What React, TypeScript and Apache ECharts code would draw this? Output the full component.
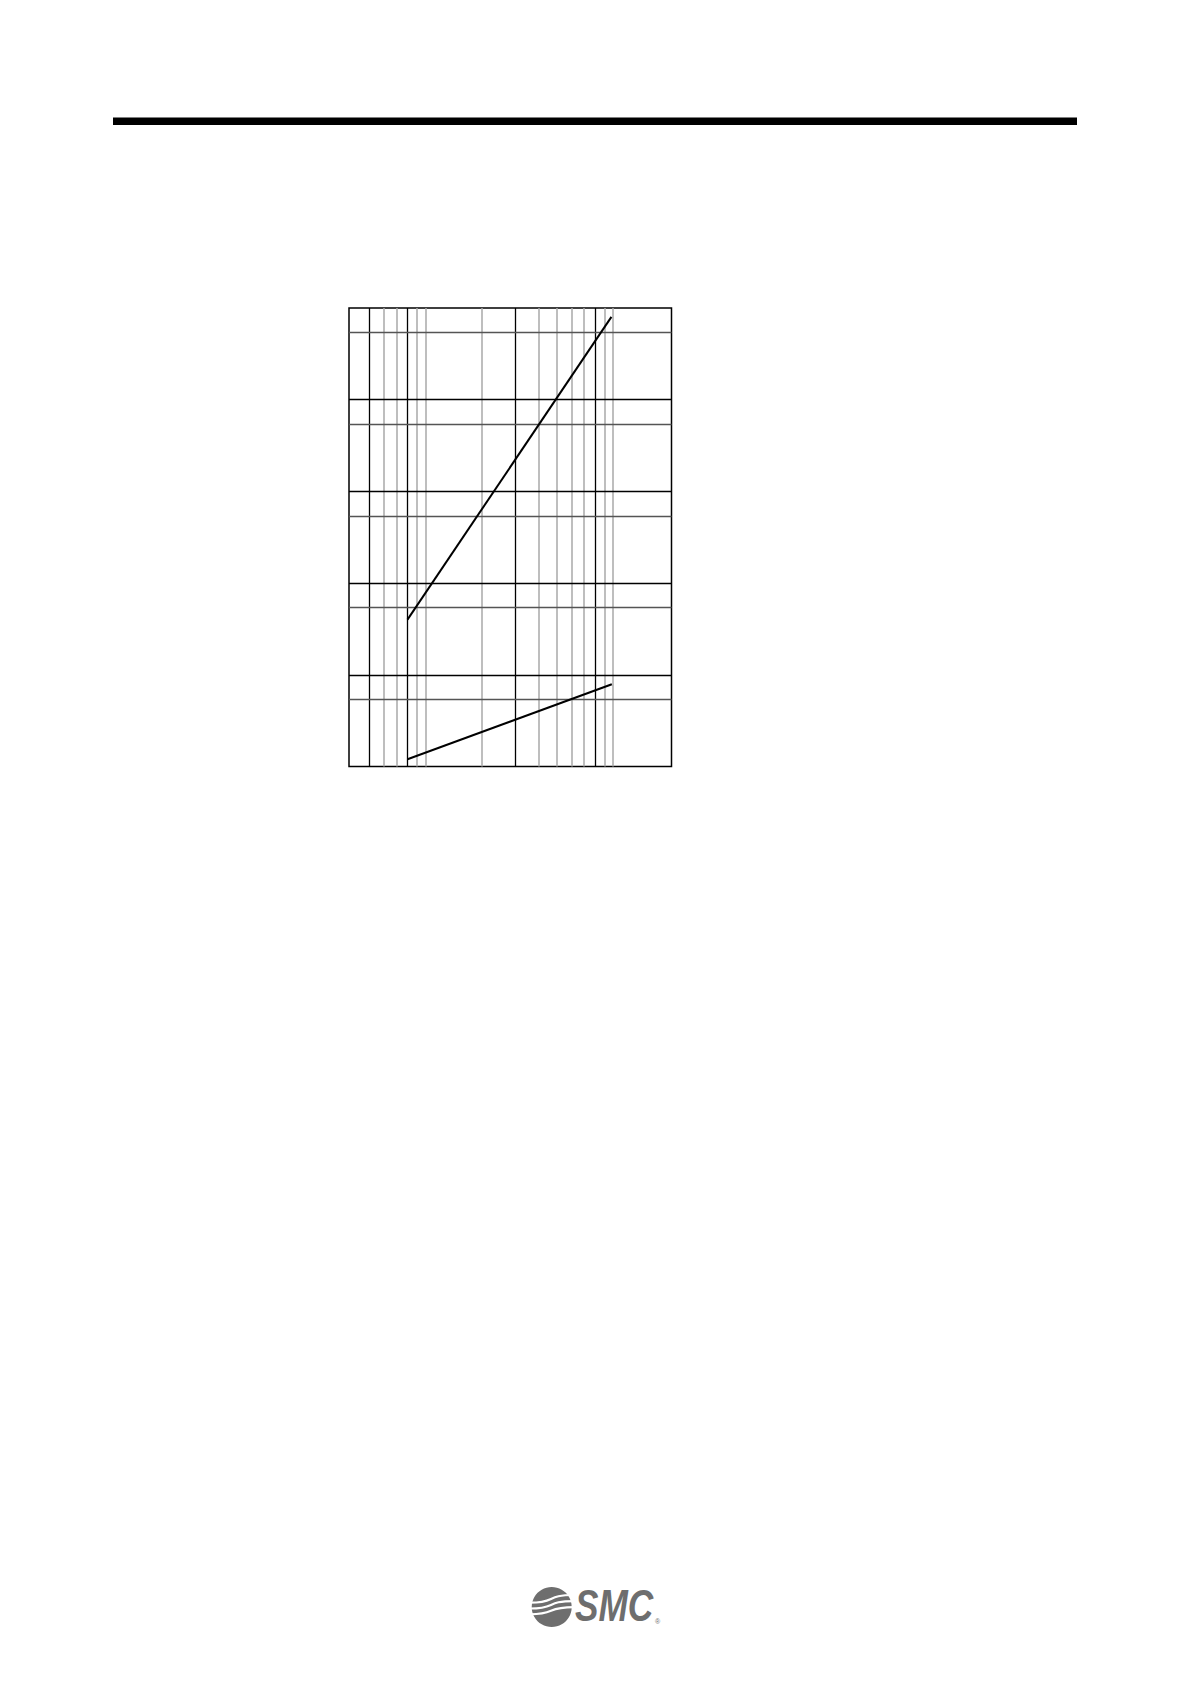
import React, { useEffect, useRef } from 'react';
import * as echarts from 'echarts';
import type { EChartsOption } from 'echarts';

// Log-log chart, values
const xRange = [0.39, 20.5];
const yRange = [0.001, 100];

// vertical grid lines
const xMajorLines = [0.5, 0.8, 3, 8];
const xMinorLines = [0.6, 0.7, 0.9, 1, 2, 4, 5, 6, 7, 9, 10];

// horizontal grid lines
const yDecadeLines = [0.01, 0.1, 1, 10];
const yMidLines = [0.0054, 0.054, 0.54, 5.4, 54];

// the two curves
const upperX = [0.8, 9.8];
const upperY = [0.04, 80];
const lowerX = [0.8, 9.85];
const lowerY = [0.0012, 0.0079];

const toPairs = (xs: number[], ys: number[]) => xs.map((x, i) => [x, ys[i]]);

const App: React.FC = () => {
  const chartRef = useRef<HTMLDivElement>(null);

  useEffect(() => {
    if (!chartRef.current) return;
    const chart = echarts.init(chartRef.current, undefined, { renderer: 'svg' });

    const hidden = {
      axisLine: { show: false },
      axisTick: { show: false },
      axisLabel: { show: false },
      splitLine: { show: false },
    };

    const option: EChartsOption = {
      animation: false,
      backgroundColor: '#fff',
      grid: {
        show: true,
        left: 349,
        top: 308,
        width: 322.5,
        height: 458.5,
        borderColor: '#000',
        borderWidth: 1.5,
        backgroundColor: 'transparent',
      },
      xAxis: { type: 'log', min: xRange[0], max: xRange[1], ...hidden },
      yAxis: { type: 'log', min: yRange[0], max: yRange[1], ...hidden },
      graphic: [
        // header rule
        { type: 'rect', shape: { x: 113, y: 117.5, width: 964, height: 7.5 }, style: { fill: '#000' } },
        // logo
        {
          type: 'group',
          children: [
            { type: 'circle', shape: { cx: 551.7, cy: 1607, r: 20 }, style: { fill: '#6e6e6e' } },
            ...[0, 1, 2].map((i) => ({
              type: 'bezierCurve',
              shape: {
                x1: 530, y1: 1602.7 + i * 5.8,
                x2: 574, y2: 1595 + i * 6.1,
                cpx1: 557, cpy1: 1602.7 + i * 5.8,
                cpx2: 545, cpy2: 1595 + i * 6.1,
              },
              style: { stroke: '#fff', lineWidth: 2.2, fill: 'none' },
            })),
            {
              type: 'text',
              x: 575,
              y: 1606,
              scaleX: 0.8,
              style: {
                text: 'SMC',
                x: 0,
                y: 0,
                fill: '#6e6e6e',
                font: 'italic bold 44px "Liberation Sans"',
                verticalAlign: 'middle',
                align: 'left',
              },
            },
            {
              type: 'text',
              x: 655,
              y: 1621,
              style: {
                text: '®',
                fill: '#6e6e6e',
                font: '7px "Liberation Sans"',
                verticalAlign: 'middle',
                align: 'left',
              },
            },
          ],
        },
      ] as any,
      series: [
        {
          type: 'line',
          data: [],
          silent: true,
          z: 1,
          markLine: {
            silent: true,
            precision: 8,
            symbol: ['none', 'none'],
            label: { show: false },
            data: [
              ...xMinorLines.map((v) => ({ xAxis: v, lineStyle: { color: '#a9a9a9', width: 1.5, type: 'solid' as const } })),
              ...xMajorLines.map((v) => ({ xAxis: v, lineStyle: { color: '#000', width: 1.3, type: 'solid' as const } })),
              ...yMidLines.map((v) => ({ yAxis: v, lineStyle: { color: '#555', width: 1.3, type: 'solid' as const } })),
              ...yDecadeLines.map((v) => ({ yAxis: v, lineStyle: { color: '#000', width: 1.3, type: 'solid' as const } })),
            ],
          },
        },
        {
          type: 'line',
          data: toPairs(upperX, upperY),
          showSymbol: false,
          z: 5,
          lineStyle: { color: '#000', width: 2 },
        },
        {
          type: 'line',
          data: toPairs(lowerX, lowerY),
          showSymbol: false,
          z: 5,
          lineStyle: { color: '#000', width: 2 },
        },
      ],
    };

    chart.setOption(option);
    return () => chart.dispose();
  }, []);

  return (
    <div
      ref={chartRef}
      style={{ position: 'absolute', left: 0, top: 0, width: '1191px', height: '1684px', background: '#fff' }}
    />
  );
};

export default App;
